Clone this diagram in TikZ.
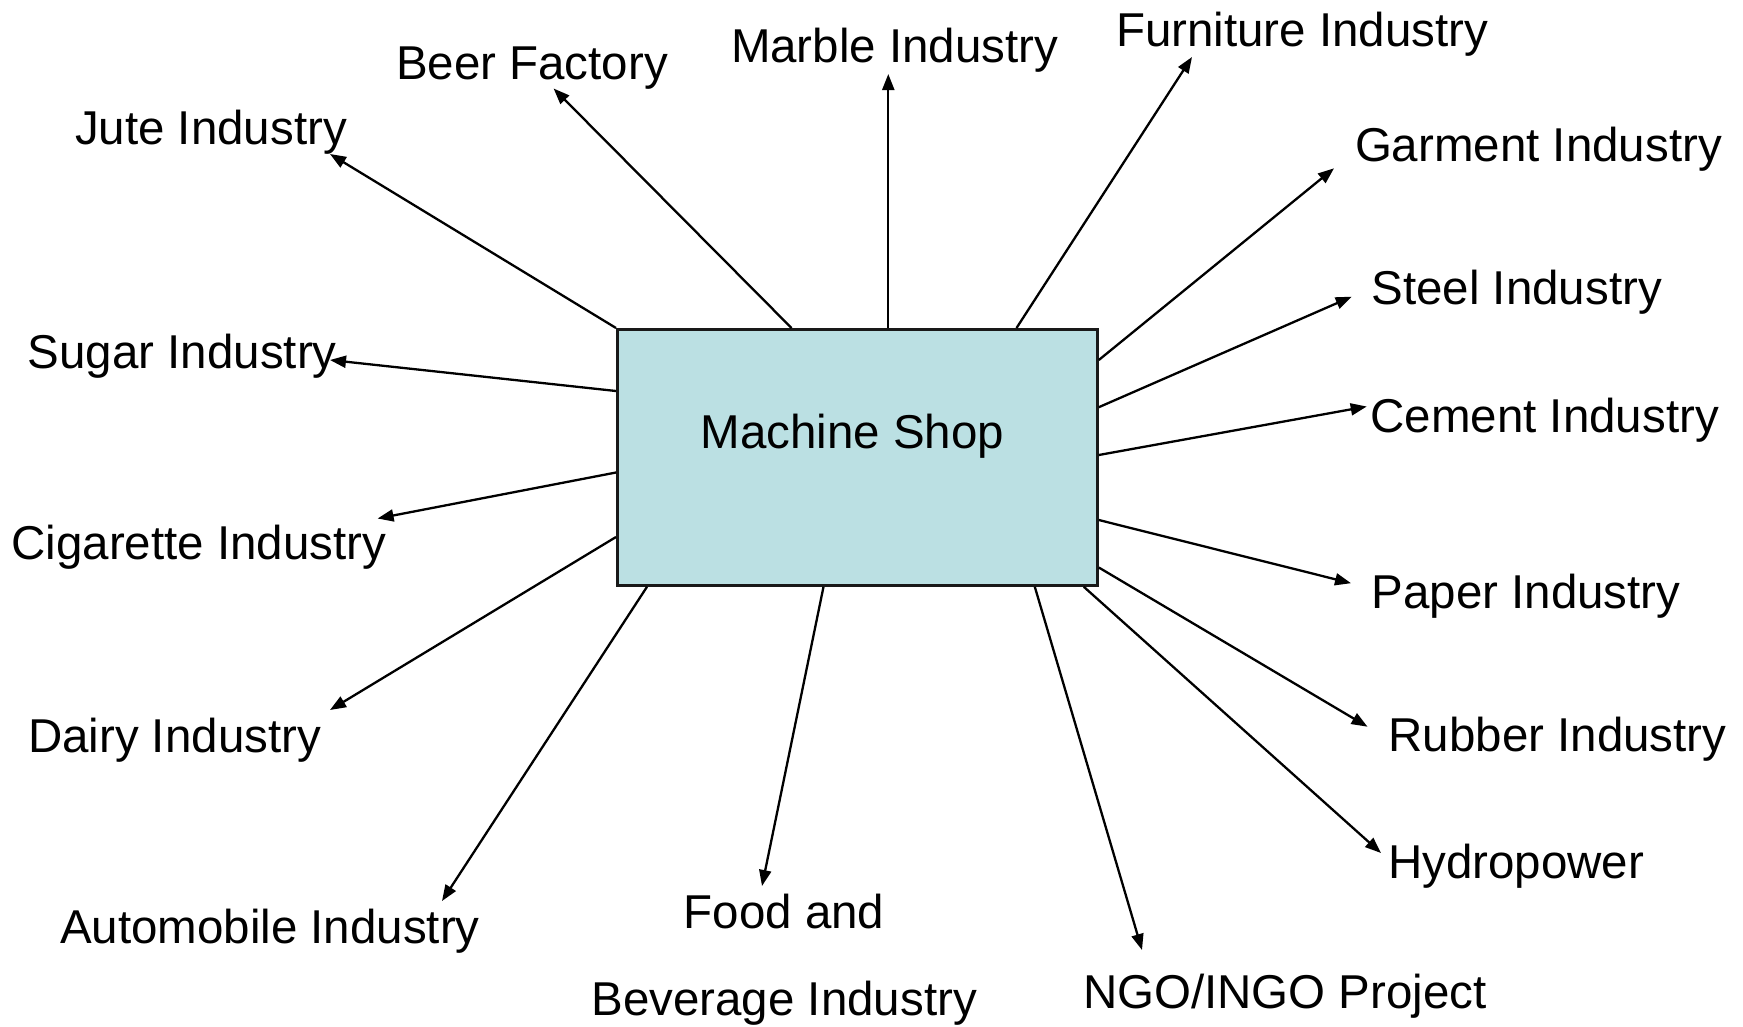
\documentclass[tikz,border=0pt]{standalone}
\usepackage{fontspec}
\setmainfont{Liberation Sans}
\usetikzlibrary{arrows.meta}
\definecolor{boxfill}{HTML}{BBE0E3}
\tikzset{
  lbl/.style={anchor=base west, inner sep=0pt, outer sep=0pt, font=\fontsize{47.5}{57}\selectfont},
  conn/.style={line width=2.3pt, draw=black, -{Triangle[length=16pt,width=12pt]}},
  shopbox/.style={draw=black!90, line width=2.8pt, fill=boxfill, minimum width=480pt, minimum height=256pt, inner sep=0pt, anchor=north west}
}
\begin{document}
\begin{tikzpicture}[x=1pt,y=-1pt]
\useasboundingbox (0,0) rectangle (1743,1026);
\node[shopbox] (box) at (616,328) {};
\node[lbl, anchor=base] (shop) at (852.4,448.3) {Machine Shop};

% labels
\node[lbl] (jute) at (75,144) {Jute Industry};
\node[lbl] (beer) at (396,79) {Beer Factory};
\node[lbl] (marble) at (731,62.7) {Marble Industry};
\node[lbl] (furn) at (1116,46.7) {Furniture Industry};
\node[lbl] (garm) at (1355,161) {Garment Industry};
\node[lbl] (steel) at (1371.5,304.3) {Steel Industry};
\node[lbl] (cement) at (1370.5,432) {Cement Industry};
\node[lbl] (paper) at (1371.5,608) {Paper Industry};
\node[lbl] (rubber) at (1388.5,751.6) {Rubber Industry};
\node[lbl] (hydro) at (1388,878) {Hydropower};
\node[lbl] (ngo) at (1083,1008.5) {NGO/INGO Project};
\node[lbl] (food1) at (683.6,928.3) {Food and};
\node[lbl] (food2) at (591.5,1015) {Beverage Industry};
\node[lbl] (auto) at (60,943.3) {Automobile Industry};
\node[lbl] (dairy) at (28,752.7) {Dairy Industry};
\node[lbl] (cig) at (11.5,559.3) {Cigarette Industry};
\node[lbl] (sugar) at (27.8,368.3) {Sugar Industry};

% arrow tips
\coordinate (tJute) at (330,154);
\coordinate (tBeer) at (553.6,88.5);
\coordinate (tMarble) at (888.3,74);
\coordinate (tFurn) at (1192,57);
\coordinate (tGarm) at (1334,168.3);
\coordinate (tSteel) at (1351.7,296.7);
\coordinate (tCement) at (1366.7,406.5);
\coordinate (tPaper) at (1351,583.2);
\coordinate (tRubber) at (1367.5,726.7);
\coordinate (tHydro) at (1381,853);
\coordinate (tNgo) at (1142,950);
\coordinate (tFood) at (762,886);
\coordinate (tAuto) at (442,901);
\coordinate (tDairy) at (330,710);
\coordinate (tCig) at (377.6,518.5);
\coordinate (tSugar) at (330,360);

% connectors
\draw[conn] (box.north west) -- (tJute);
\draw[conn] ([xshift=175.5pt]box.north west) -- (tBeer);
\draw[conn] ([xshift=272.3pt]box.north west) -- (tMarble);
\draw[conn] ([xshift=400.5pt]box.north west) -- (tFurn);
\draw[conn] ([yshift=-32pt]box.north east) -- (tGarm);
\draw[conn] ([yshift=-79.2pt]box.north east) -- (tSteel);
\draw[conn] ([yshift=-127pt]box.north east) -- (tCement);
\draw[conn] ([yshift=-192pt]box.north east) -- (tPaper);
\draw[conn] ([yshift=-239.5pt]box.north east) -- (tRubber);
\draw[conn] ([xshift=-15pt]box.south east) -- (tHydro);
\draw[conn] ([xshift=-64pt]box.south east) -- (tNgo);
\draw[conn] ([xshift=207.5pt]box.south west) -- (tFood);
\draw[conn] ([xshift=31pt]box.south west) -- (tAuto);
\draw[conn] ([yshift=-209pt]box.north west) -- (tDairy);
\draw[conn] ([yshift=-144.5pt]box.north west) -- (tCig);
\draw[conn] ([yshift=-63pt]box.north west) -- (tSugar);
\end{tikzpicture}
\end{document}
